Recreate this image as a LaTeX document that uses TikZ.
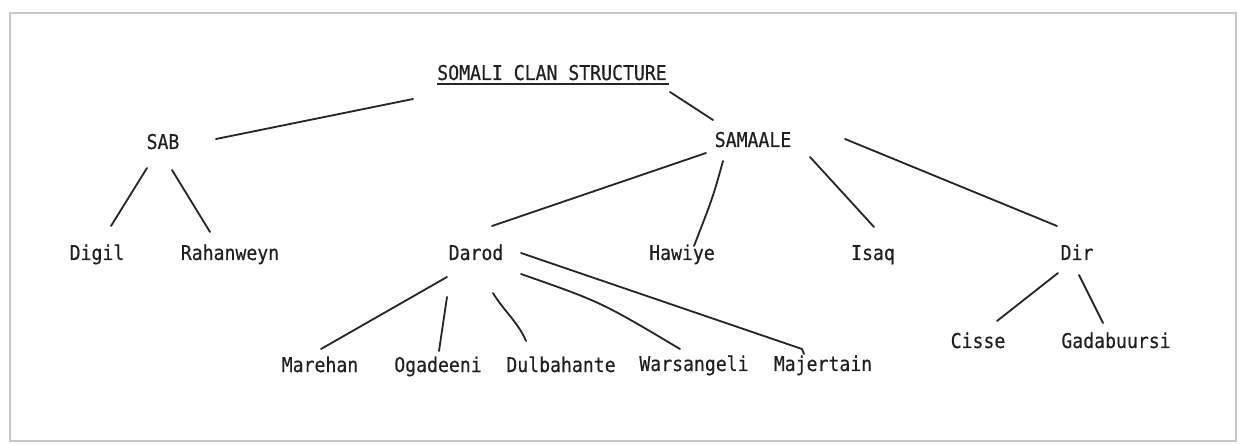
\documentclass[tikz,border=0pt]{standalone}
\usepackage{fontspec}
\setmonofont[FakeStretch=0.89,FakeBold=0.4]{DejaVu Sans Mono}
\usetikzlibrary{calc}

\begin{document}
\begin{tikzpicture}
  [x=0.025cm,y=-0.025cm,
   every node/.style={anchor=base,inner sep=0pt,text=black!88,
     font=\ttfamily\fontsize{14.5}{16}\selectfont},
   tie/.style={draw=black!85,line width=1.3pt,line cap=round}]
  \useasboundingbox (0,0) rectangle (1240,444);
  \draw[black!22,line width=1.6pt] (10,13) rectangle (1236,441);

  \node (title) at (552,80) {SOMALI CLAN STRUCTURE};
  \node (sab) at (163,149) {SAB};
  \node (samaale) at (753,147) {SAMAALE};
  \node (digil) at (97,260) {Digil};
  \node (rahan) at (230,260) {Rahanweyn};
  \node (darod) at (476,260) {Darod};
  \node (hawiye) at (682,260) {Hawiye};
  \node (isaq) at (873,260) {Isaq};
  \node (dir) at (1077,260) {Dir};
  \node (marehan) at (320,372) {Marehan};
  \node (ogadeeni) at (438,372) {Ogadeeni};
  \node (dulba) at (561,372) {Dulbahante};
  \node (warsa) at (694,371) {Warsangeli};
  \node (majer) at (823,371) {Majertain};
  \node (cisse) at (978,348) {Cisse};
  \node (gadab) at (1116,348) {Gadabuursi};

  \draw[black!85,line width=1.1pt]
    ($(title.base west)+(0,4)$) -- ($(title.base east)+(2,4)$);

 \path[tie]
        ($(title.base)+(-139,19)$) edge ($(sab.base)+(53,-10)$)
        ($(title.base)+(118,12)$) edge ($(samaale.base)+(-40,-27)$)
        ($(sab.base)+(-16,19)$) edge ($(digil.base)+(14,-34)$)
        ($(sab.base)+(9,21)$) edge ($(rahan.base)+(-20,-28)$)
        ($(samaale.base)+(-47,6)$) edge ($(darod.base)+(16,-34)$)
        ($(samaale.base)+(57,10)$) edge ($(isaq.base)+(1,-33)$)
        ($(samaale.base)+(92,-8)$) edge ($(dir.base)+(-20,-34)$)
        ($(darod.base)+(-29,17)$) edge ($(marehan.base)+(1,-23)$)
        ($(darod.base)+(-29,37)$) edge ($(ogadeeni.base)+(1,-21)$)
        ($(darod.base)+(45,-7)$) edge ($(majer.base)+(-21,-22)$)
        ($(majer.base)+(-21,-22)$) edge ($(majer.base)+(-19,-17)$)
        ($(dir.base)+(-19,13)$) edge ($(cisse.base)+(19,-27)$)
        ($(dir.base)+(2,15)$) edge ($(gadab.base)+(-13,-25)$);
 \draw[tie] ($(samaale.base)+(-30,14)$)
        .. controls ($(samaale.base)+(-40,50)$) .. ($(hawiye.base)+(12,-14)$);
 \draw[tie] ($(darod.base)+(17,33)$)
        .. controls ($(darod.base)+(27,50)$) and ($(dulba.base)+(-43,-50)$)
        .. ($(dulba.base)+(-35,-31)$);
 \draw[tie] ($(darod.base)+(45,14)$)
        .. controls ($(darod.base)+(125,42)$) .. ($(warsa.base)+(-14,-22)$);

\end{tikzpicture}
\end{document}
